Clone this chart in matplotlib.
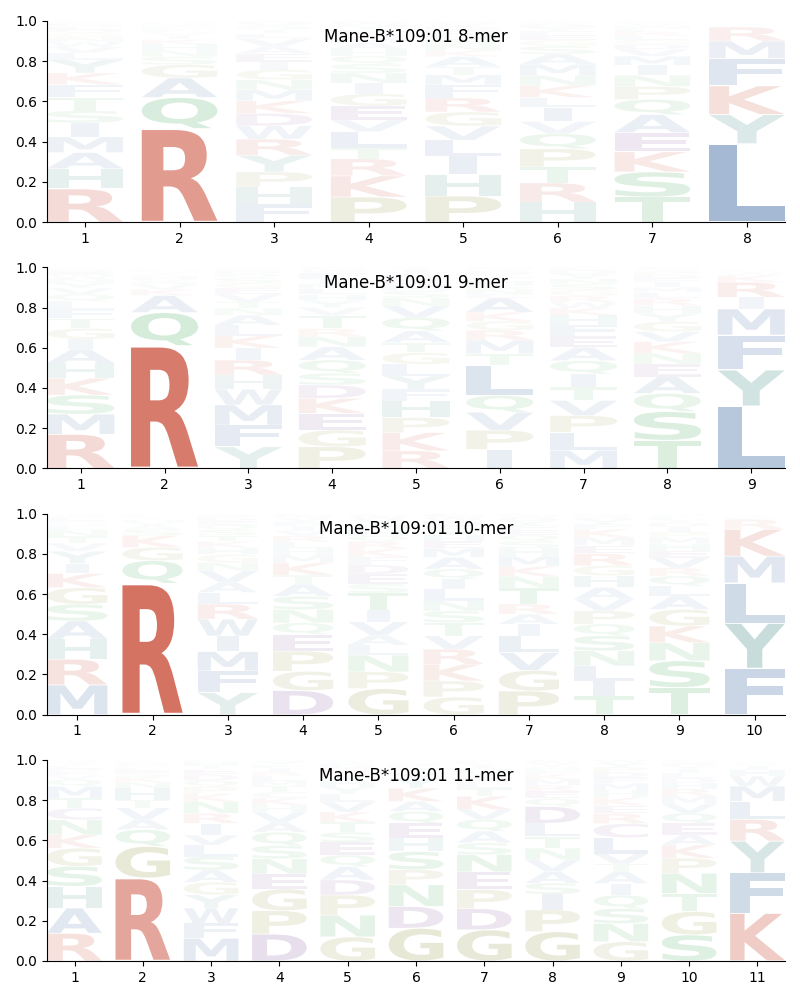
import matplotlib
matplotlib.use("Agg")
import matplotlib.pyplot as plt
from matplotlib.textpath import TextPath
from matplotlib.patches import PathPatch
from matplotlib.font_manager import FontProperties
from matplotlib.transforms import Affine2D

# ---------------- data (bottom -> top stacking, letter frequency) ----------------
titles = ["Mane-B*109:01 8-mer", "Mane-B*109:01 9-mer",
          "Mane-B*109:01 10-mer", "Mane-B*109:01 11-mer"]

mer8 = [
    [("R",.166),("H",.10),("A",.08),("M",.078),("I",.07),("S",.06),("T",.065),("F",.065),("K",.058),("Y",.065),
     ("L",.035),("V",.03),("W",.025),("N",.022),("G",.02),("Q",.018),("E",.015),("D",.012),("P",.01),("C",.006)],
    [("R",.465),("Q",.155),("A",.097),("G",.066),("S",.04),("N",.033),("H",.028),("K",.024),("T",.02),("V",.016),
     ("E",.013),("L",.011),("P",.009),("M",.007),("D",.005),("F",.004),("Y",.003),("I",.002),("W",.001),("C",.001)],
    [("F",.09),("H",.085),("P",.075),("Y",.083),("R",.08),("W",.066),("D",.062),("K",.062),("M",.055),("N",.05),
     ("G",.05),("I",.04),("E",.04),("A",.035),("V",.04),("L",.025),("T",.02),("S",.02),("Q",.018),("C",.004)],
    [("P",.125),("K",.105),("R",.085),("T",.055),("L",.08),("V",.058),("E",.07),("G",.06),("I",.053),("N",.05),
     ("S",.045),("Q",.04),("H",.035),("A",.03),("M",.025),("D",.022),("F",.02),("Y",.018),("W",.014),("C",.01)],
    [("P",.13),("H",.108),("I",.09),("L",.08),("V",.07),("G",.07),("R",.07),("F",.065),("M",.05),("T",.04),
     ("A",.05),("K",.03),("N",.03),("S",.028),("Q",.025),("E",.02),("D",.016),("Y",.014),("W",.01),("C",.004)],
    [("H",.10),("R",.095),("T",.08),("P",.09),("Q",.075),("V",.06),("I",.07),("L",.05),("K",.06),("N",.05),
     ("M",.055),("A",.05),("S",.04),("G",.03),("E",.025),("F",.02),("Y",.018),("D",.015),("W",.01),("C",.007)],
    [("T",.125),("S",.125),("K",.10),("E",.095),("A",.09),("Q",.075),("P",.065),("N",.055),("I",.05),("M",.045),
     ("V",.035),("D",.025),("G",.022),("L",.02),("R",.02),("F",.015),("H",.012),("Y",.01),("W",.008),("C",.008)],
    [("L",.39),("Y",.145),("K",.143),("F",.136),("M",.086),("R",.07),("W",.008),("I",.006),("H",.004),("V",.003),
     ("A",.002),("T",.002),("S",.001),("N",.001),("Q",.001),("C",.001),("G",.001)],
]

mer9 = [
    [("R",.17),("M",.10),("S",.095),("K",.083),("H",.075),("A",.07),("I",.05),("G",.053),("T",.05),("F",.045),
     ("L",.04),("Q",.035),("V",.03),("Y",.025),("N",.022),("W",.018),("E",.015),("D",.012),("P",.008),("C",.004)],
    [("R",.61),("Q",.165),("A",.085),("K",.03),("V",.025),("S",.02),("H",.015),("G",.012),("T",.01),("N",.01),
     ("L",.006),("M",.004),("E",.003),("Y",.002),("F",.001),("P",.001),("W",.001)],
    [("Y",.108),("F",.108),("M",.10),("W",.078),("H",.07),("R",.075),("I",.06),("K",.06),("L",.053),("A",.05),
     ("N",.035),("T",.03),("V",.04),("E",.03),("G",.025),("S",.025),("Q",.02),("D",.015),("P",.012),("C",.006)],
    [("P",.108),("G",.083),("E",.083),("K",.075),("D",.066),("S",.058),("Q",.066),("A",.066),("N",.05),("R",.04),
     ("T",.065),("V",.04),("Y",.035),("H",.03),("L",.028),("M",.025),("I",.025),("F",.03),("W",.015),("C",.012)],
    [("R",.088),("K",.09),("P",.075),("H",.083),("F",.058),("Y",.066),("L",.058),("G",.058),("T",.05),("A",.058),
     ("Q",.066),("V",.058),("N",.04),("S",.035),("M",.03),("E",.025),("D",.022),("W",.018),("I",.015),("C",.007)],
    [("I",.095),("P",.095),("V",.09),("Q",.083),("L",.15),("T",.058),("M",.066),("R",.05),("G",.045),("K",.045),
     ("A",.07),("E",.02),("N",.025),("S",.02),("H",.02),("F",.018),("Y",.015),("D",.015),("W",.01),("C",.01)],
    [("M",.09),("L",.09),("P",.083),("V",.075),("T",.066),("I",.066),("Q",.066),("A",.066),("E",.055),("F",.055),
     ("H",.05),("K",.035),("W",.03),("R",.03),("G",.03),("S",.03),("N",.025),("Y",.025),("D",.02),("C",.013)],
    [("T",.14),("S",.143),("Q",.09),("A",.083),("E",.063),("N",.053),("K",.058),("V",.05),("G",.05),("Y",.04),
     ("H",.04),("R",.035),("L",.03),("M",.025),("I",.025),("F",.02),("D",.018),("P",.015),("W",.01),("C",.012)],
    [("L",.31),("Y",.18),("F",.173),("M",.13),("I",.058),("R",.075),("K",.033),("W",.015),("V",.008),("H",.006),
     ("A",.004),("T",.004),("S",.002),("Q",.002)],
]

mer10 = [
    [("M",.148),("R",.128),("H",.10),("A",.09),("S",.083),("G",.083),("K",.07),("I",.05),("Y",.06),("V",.04),
     ("T",.035),("N",.03),("L",.02),("Q",.015),("F",.015),("E",.012),("D",.008),("W",.006),("P",.004),("C",.003)],
    [("R",.653),("Q",.113),("G",.066),("K",.058),("S",.03),("A",.022),("V",.015),("H",.012),("T",.008),("N",.007),
     ("E",.005),("L",.004),("M",.003),("P",.002),("Y",.001),("D",.001)],
    [("Y",.11),("F",.108),("M",.096),("I",.078),("W",.083),("R",.075),("L",.058),("A",.05),("V",.058),("N",.04),
     ("G",.04),("H",.035),("K",.03),("T",.03),("S",.028),("Q",.025),("E",.02),("D",.015),("P",.012),("C",.009)],
    [("D",.12),("G",.096),("P",.10),("E",.083),("Q",.058),("N",.066),("S",.066),("A",.06),("T",.045),("K",.06),
     ("M",.04),("H",.035),("L",.03),("R",.03),("V",.025),("I",.022),("F",.02),("Y",.018),("W",.015),("C",.011)],
    [("G",.13),("P",.083),("N",.083),("L",.05),("A",.05),("V",.066),("I",.058),("T",.085),("S",.045),("E",.05),
     ("D",.045),("F",.04),("K",.04),("R",.035),("Q",.03),("H",.03),("M",.025),("Y",.025),("W",.018),("C",.012)],
    [("G",.088),("P",.08),("K",.083),("R",.075),("V",.066),("T",.066),("S",.058),("N",.05),("L",.058),("I",.05),
     ("Q",.05),("A",.058),("M",.045),("E",.035),("H",.03),("Y",.025),("F",.02),("D",.025),("W",.02),("C",.018)],
    [("P",.118),("G",.103),("V",.088),("L",.083),("I",.058),("A",.05),("R",.05),("T",.08),("N",.058),("K",.05),
     ("M",.05),("H",.04),("S",.035),("Q",.03),("E",.025),("F",.025),("Y",.02),("D",.015),("W",.012),("C",.01)],
    [("T",.093),("I",.075),("L",.075),("N",.075),("S",.075),("Q",.058),("P",.066),("V",.058),("A",.058),("H",.058),
     ("G",.05),("R",.06),("E",.04),("M",.04),("K",.041),("F",.025),("Y",.025),("D",.01),("W",.01),("C",.008)],
    [("T",.135),("S",.133),("N",.09),("K",.083),("G",.083),("A",.066),("L",.05),("Q",.05),("R",.04),("V",.05),
     ("E",.035),("H",.035),("M",.03),("P",.03),("I",.025),("D",.02),("Y",.015),("F",.015),("W",.01),("C",.005)],
    [("F",.23),("Y",.225),("L",.20),("M",.133),("K",.133),("R",.05),("W",.01),("I",.008),("H",.005),("V",.003),
     ("A",.002),("Q",.001)],
]

mer11 = [
    [("R",.138),("A",.125),("H",.108),("S",.10),("G",.09),("K",.066),("N",.075),("C",.058),("T",.05),("M",.058),
     ("Q",.035),("V",.02),("E",.018),("D",.015),("L",.012),("I",.01),("F",.008),("Y",.006),("W",.004),("P",.004)],
    [("R",.412),("G",.158),("Q",.083),("A",.05),("V",.058),("T",.04),("H",.058),("N",.03),("K",.025),("S",.02),
     ("E",.015),("L",.012),("M",.01),("D",.008),("P",.007),("Y",.005),("F",.004),("I",.003),("W",.001),("C",.001)],
    [("M",.113),("F",.075),("W",.075),("Y",.066),("G",.063),("A",.06),("S",.066),("L",.058),("V",.05),("I",.058),
     ("R",.05),("N",.058),("K",.04),("P",.035),("Q",.03),("D",.03),("E",.025),("T",.02),("H",.018),("C",.01)],
    [("D",.134),("P",.116),("G",.108),("E",.075),("N",.075),("S",.066),("Q",.066),("A",.05),("V",.05),("H",.035),
     ("K",.035),("C",.03),("T",.03),("M",.025),("L",.025),("R",.02),("I",.02),("F",.015),("Y",.015),("W",.01)],
    [("G",.12),("N",.108),("P",.10),("D",.075),("A",.066),("Q",.058),("E",.063),("S",.05),("T",.05),("K",.05),
     ("V",.05),("L",.04),("Y",.035),("H",.03),("I",.03),("R",.025),("M",.02),("F",.015),("W",.01),("C",.005)],
    [("G",.163),("D",.108),("N",.108),("P",.075),("S",.09),("H",.066),("E",.075),("Q",.058),("A",.05),("K",.066),
     ("Y",.05),("V",.025),("T",.02),("L",.015),("R",.01),("M",.008),("I",.006),("F",.004),("W",.002),("C",.001)],
    [("G",.155),("D",.105),("P",.095),("E",.088),("N",.086),("S",.058),("A",.058),("Q",.058),("V",.05),("K",.066),
     ("T",.04),("L",.03),("R",.025),("M",.02),("H",.02),("I",.015),("Y",.012),("F",.008),("W",.005),("C",.006)],
    [("G",.146),("P",.108),("I",.078),("S",.055),("A",.058),("V",.058),("N",.058),("T",.058),("L",.066),("D",.083),
     ("Q",.04),("E",.035),("R",.03),("M",.03),("K",.025),("F",.02),("H",.015),("Y",.015),("W",.012),("C",.01)],
    [("G",.096),("N",.09),("S",.075),("Q",.066),("I",.058),("A",.058),("T",.04),("V",.05),("L",.08),("C",.07),
     ("R",.05),("E",.04),("K",.04),("H",.035),("M",.035),("F",.03),("D",.025),("P",.026),("Y",.02),("W",.016)],
    [("S",.13),("G",.116),("T",.09),("N",.10),("P",.075),("K",.066),("A",.05),("E",.058),("Q",.05),("V",.045),
     ("M",.04),("R",.035),("H",.03),("D",.025),("L",.025),("I",.02),("Y",.015),("F",.012),("W",.01),("C",.008)],
    [("K",.238),("F",.20),("Y",.158),("R",.108),("L",.09),("M",.075),("W",.05),("H",.03),("I",.02),("V",.01),
     ("A",.008),("Q",.005),("T",.004),("S",.002),("N",.002)],
]

panels = [mer8, mer9, mer10, mer11]

# ---------------- style ----------------
residue_colors = {}
for aa in "KR":
    residue_colors[aa] = "#d4705f"
for aa in "AVLIMFW":
    residue_colors[aa] = "#6688b6"
for aa in "YH":
    residue_colors[aa] = "#5c9d97"
for aa in "STNQ":
    residue_colors[aa] = "#5ab46c"
for aa in "GP":
    residue_colors[aa] = "#a3a35c"
for aa in "DE":
    residue_colors[aa] = "#8f62a3"
residue_colors["C"] = "#9a78b0"

fp = FontProperties(family="DejaVu Sans", weight="bold")
glyph_cache = {}


def glyph(ch):
    if ch not in glyph_cache:
        tp = TextPath((0, 0), ch, size=1, prop=fp)
        glyph_cache[ch] = (tp, tp.get_extents())
    return glyph_cache[ch]


COL_WIDTH = 0.8
# narrow glyphs (like "I") are only stretched so far horizontally
MAX_HSTRETCH = 0.30 / glyph("I")[1].width


def draw_letter(ax, ch, x, y0, h, width=COL_WIDTH):
    if h <= 0:
        return
    tp, bb = glyph(ch)
    pad = 0.015 * h
    gh = h - 2 * pad
    w = min(width, bb.width * MAX_HSTRETCH)
    t = (Affine2D().translate(-bb.x0, -bb.y0)
         .scale(w / bb.width, gh / bb.height)
         .translate(x - w / 2, y0 + pad))
    path = t.transform_path(tp)
    alpha = min(1.0, 1.5 * h)
    ax.add_patch(PathPatch(path, facecolor=residue_colors[ch], edgecolor="none",
                           alpha=alpha, linewidth=0))


fig, axes = plt.subplots(4, 1, figsize=(8, 10), dpi=100)
fig.subplots_adjust(left=0.059, right=0.981, top=0.979, bottom=0.039, hspace=0.224)

for ax, cols, title in zip(axes, panels, titles):
    n = len(cols)
    for i, col in enumerate(cols):
        pos = i + 1
        y = 0.0
        for ch, h in col:
            draw_letter(ax, ch, pos, y, h)
            y += h
    ax.set_xlim(0.6, n + 0.4)
    ax.set_ylim(0, 1)
    ax.set_xticks(range(1, n + 1))
    ax.set_yticks([0, 0.2, 0.4, 0.6, 0.8, 1.0])
    ax.spines["top"].set_visible(False)
    ax.spines["right"].set_visible(False)
    ax.text(0.5, 0.896, title, transform=ax.transAxes, ha="center",
            va="baseline", fontsize=12, zorder=10)

fig.savefig("out.png", dpi=100)
